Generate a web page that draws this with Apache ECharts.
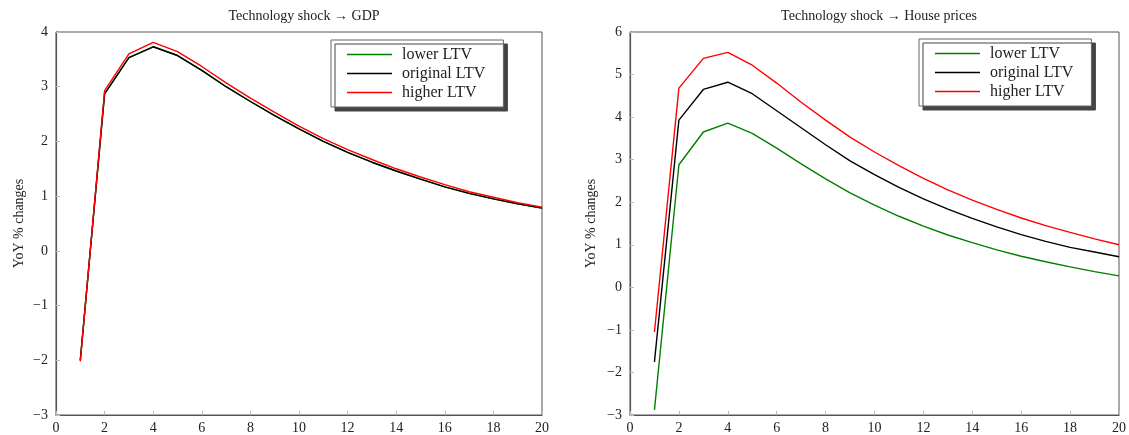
<!DOCTYPE html>
<html>
<head>
<meta charset="utf-8">
<script src="https://cdn.jsdelivr.net/npm/echarts@6/dist/echarts.min.js"></script>
<style>
html,body{margin:0;padding:0;background:#fff;}
#main{width:1129px;height:435px;}
</style>
</head>
<body>
<div id="main"></div>
<script>
// 数据
var periods = [1,2,3,4,5,6,7,8,9,10,11,12,13,14,15,16,17,18,19,20];
var seriesNames = ['lower LTV', 'original LTV', 'higher LTV'];
var gdpLower = [-2.00,2.87,3.53,3.73,3.57,3.30,3.00,2.73,2.47,2.23,2.00,1.80,1.62,1.46,1.31,1.17,1.05,0.95,0.86,0.78];
var gdpOriginal = [-2.00,2.87,3.53,3.73,3.57,3.30,3.00,2.73,2.47,2.23,2.00,1.80,1.62,1.46,1.31,1.17,1.05,0.95,0.86,0.78];
var gdpHigher = [-2.02,2.93,3.60,3.81,3.64,3.37,3.07,2.79,2.53,2.28,2.05,1.85,1.67,1.50,1.35,1.21,1.08,0.98,0.88,0.80];
var houseLower = [-2.88,2.88,3.65,3.86,3.62,3.27,2.90,2.55,2.22,1.93,1.67,1.44,1.23,1.05,0.88,0.73,0.60,0.48,0.37,0.27];
var houseOriginal = [-1.75,3.93,4.65,4.82,4.55,4.15,3.75,3.35,2.97,2.65,2.35,2.08,1.84,1.62,1.42,1.24,1.08,0.94,0.83,0.72];
var houseHigher = [-1.05,4.68,5.38,5.52,5.22,4.80,4.35,3.93,3.53,3.18,2.86,2.56,2.29,2.05,1.83,1.63,1.45,1.29,1.14,1.00];
var titles = ['Technology shock \u2192 GDP', 'Technology shock \u2192 House prices'];
var yName = 'YoY % changes';

var colors = ['#008000', '#000000', '#ff0000'];
var serifFont = '"Liberation Serif", "DejaVu Serif", serif';

var myChart = echarts.init(document.getElementById('main'));

function pairs(vals){
    var out = [];
    for(var i=0;i<periods.length;i++){
        out.push([periods[i], vals[i]]);
    }
    return out;
}
function minusFmt(v){
    return String(v).replace('-', '\u2212');
}
function xAxisOf(idx){
    return {
        type: 'value', gridIndex: idx, min: 0, max: 20, interval: 2,
        axisLine: {show: true, onZero: false, lineStyle: {color: '#555', width: 1.2}},
        axisTick: {show: true, inside: true, length: 4, lineStyle: {color: '#bbb'}},
        splitLine: {show: false},
        axisLabel: {color: '#222', fontFamily: serifFont, fontSize: 14, margin: 6, formatter: minusFmt}
    };
}
function yAxisOf(idx, min, max, gap){
    return {
        type: 'value', gridIndex: idx, min: min, max: max, interval: 1,
        name: yName, nameLocation: 'middle', nameGap: gap,
        nameTextStyle: {color: '#222', fontFamily: serifFont, fontSize: 14},
        axisLine: {show: true, onZero: false, lineStyle: {color: '#555', width: 1.2}},
        axisTick: {show: true, inside: true, length: 4, lineStyle: {color: '#bbb'}},
        splitLine: {show: false},
        axisLabel: {color: '#222', fontFamily: serifFont, fontSize: 14, margin: 8, formatter: minusFmt}
    };
}
function lineSeries(name, idx, vals, color){
    return {
        name: name, type: 'line', xAxisIndex: idx, yAxisIndex: idx,
        data: pairs(vals), showSymbol: false, symbol: 'none',
        lineStyle: {color: color, width: 1.4}, itemStyle: {color: color},
        animation: false
    };
}
function legendOf(left, top){
    return {
        orient: 'vertical', left: left, top: top,
        data: seriesNames,
        icon: 'rect', itemWidth: 45, itemHeight: 1.5, itemGap: 2,
        padding: [6, 18, 6, 16],
        backgroundColor: '#fff', borderColor: '#666', borderWidth: 1,
        shadowColor: '#444', shadowOffsetX: 4, shadowOffsetY: 4, shadowBlur: 0,
        textStyle: {color: '#222', fontFamily: serifFont, fontSize: 16, lineHeight: 17, padding: [0, 0, 0, 5]},
        selectedMode: false
    };
}

var option = {
    backgroundColor: '#fff',
    animation: false,
    title: [
        {text: titles[0], left: 299, top: 4, textAlign: 'center',
         textStyle: {fontFamily: serifFont, fontSize: 14, fontWeight: 'normal', color: '#222'}},
        {text: titles[1], left: 874, top: 4, textAlign: 'center',
         textStyle: {fontFamily: serifFont, fontSize: 14, fontWeight: 'normal', color: '#222'}}
    ],
    grid: [
        {left: 56, top: 32, width: 486, height: 383, show: true, borderColor: '#555', borderWidth: 1},
        {left: 630, top: 32, width: 489, height: 383, show: true, borderColor: '#555', borderWidth: 1}
    ],
    legend: [legendOf(331, 40), legendOf(919, 39)],
    xAxis: [xAxisOf(0), xAxisOf(1)],
    yAxis: [yAxisOf(0, -3, 4, 30), yAxisOf(1, -3, 6, 32)],
    series: [
        lineSeries(seriesNames[0], 0, gdpLower, colors[0]),
        lineSeries(seriesNames[1], 0, gdpOriginal, colors[1]),
        lineSeries(seriesNames[2], 0, gdpHigher, colors[2]),
        lineSeries(seriesNames[0], 1, houseLower, colors[0]),
        lineSeries(seriesNames[1], 1, houseOriginal, colors[1]),
        lineSeries(seriesNames[2], 1, houseHigher, colors[2])
    ]
};
myChart.setOption(option, true);
</script>
</body>
</html>
